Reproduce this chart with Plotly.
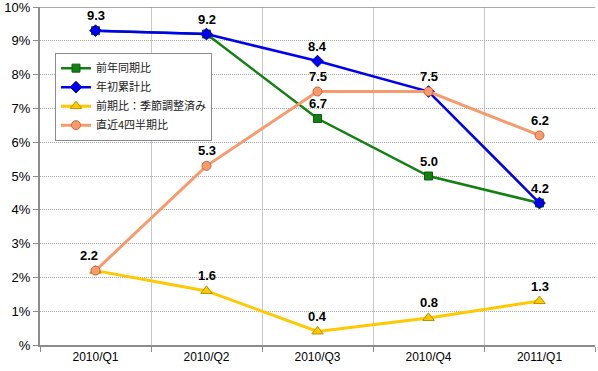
import plotly.graph_objects as go

categories = ["2010/Q1", "2010/Q2", "2010/Q3", "2010/Q4", "2011/Q1"]
yoy = [9.3, 9.2, 6.7, 5.0, 4.2]          # 前年同期比
ytd = [9.3, 9.2, 8.4, 7.5, 4.2]          # 年初累計比
qoq_sa = [2.2, 1.6, 0.4, 0.8, 1.3]       # 前期比：季節調整済み
last4q = [2.2, 5.3, 7.5, 7.5, 6.2]       # 直近4四半期比

names = ["前年同期比", "年初累計比", "前期比：季節調整済み", "直近4四半期比"]
y_tickvals = [0, 1, 2, 3, 4, 5, 6, 7, 8, 9, 10]
y_ticktext = ["%", "1%", "2%", "3%", "4%", "5%", "6%", "7%", "8%", "9%", "10%"]

# which labels to show for each series (True => label shown)
yoy_show = [False, False, True, True, False]
ytd_show = [True, True, True, False, True]
qoq_show = [True, True, True, True, True]
l4q_show = [False, True, True, True, True]

fig = go.Figure()

styles = [
    (yoy, names[0], "#138013", 2.5, "square", 8, "#0B5E0B"),
    (ytd, names[1], "#0000F0", 2.5, "diamond", 9, "#0000A0"),
    (qoq_sa, names[2], "#FFC800", 3, "triangle-up", 10, "#B89000"),
    (last4q, names[3], "#F79B6E", 3, "circle", 9, "#C8683C"),
]
for vals, nm, col, w, sym, sz, edge in styles:
    fig.add_trace(go.Scatter(
        x=categories, y=vals, name=nm, mode="lines+markers",
        line=dict(color=col, width=w),
        marker=dict(symbol=sym, size=sz, color=col, line=dict(color=edge, width=1)),
        cliponaxis=False,
    ))

label_font = dict(family="Liberation Sans, Arial, sans-serif", size=13, color="black")
annotations = []
for vals, show in [(yoy, yoy_show), (ytd, ytd_show), (qoq_sa, qoq_show), (last4q, l4q_show)]:
    for i, (c, v) in enumerate(zip(categories, vals)):
        if show[i]:
            shift = -7 if (i == 0 and v < 5) else 0
            annotations.append(dict(
                x=c, y=v, text="<b>%.1f</b>" % v, showarrow=False,
                yshift=15, xshift=shift, font=label_font,
            ))

fig.update_layout(
    width=598, height=371,
    margin=dict(l=40, r=3, t=7, b=26, autoexpand=False),
    paper_bgcolor="white", plot_bgcolor="white",
    font=dict(family="Liberation Sans, Arial, sans-serif", size=12, color="black"),
    annotations=annotations,
    showlegend=True,
    legend=dict(
        x=0.027, y=0.865, xanchor="left", yanchor="top",
        bgcolor="white", bordercolor="#8C8C8C", borderwidth=1,
        font=dict(family="Noto Sans CJK JP, sans-serif", size=11, color="#222222"),
        tracegroupgap=0, itemwidth=30,
    ),
    shapes=[dict(type="line", xref="paper", yref="y", x0=0, x1=1, y0=10, y1=10,
                 line=dict(color="#8C8C8C", width=1.5))],
)

fig.update_xaxes(
    type="category", tickson="boundaries", showgrid=True, gridcolor="#C8C8C8", gridwidth=1,
    showline=True, linecolor="#8C8C8C", linewidth=2,
    ticks="outside", ticklen=5, tickcolor="#8C8C8C",
    tickfont=dict(size=12, color="black"), range=[-0.5, 4.5],
)
fig.update_yaxes(
    range=[0, 10], tickvals=y_tickvals, ticktext=y_ticktext,
    showgrid=True, gridcolor="#AAAAAA", griddash="1px,1px", gridwidth=1,
    showline=True, linecolor="#8C8C8C", linewidth=2, zeroline=False,
    ticks="outside", ticklen=5, tickcolor="#8C8C8C",
    tickfont=dict(size=13, color="black"), ticklabeloverflow="allow",
)

fig.write_html(
    "out.html",
    config={"displayModeBar": False},
    post_script="document.body.style.margin='0px';document.body.style.padding='0px';",
)
